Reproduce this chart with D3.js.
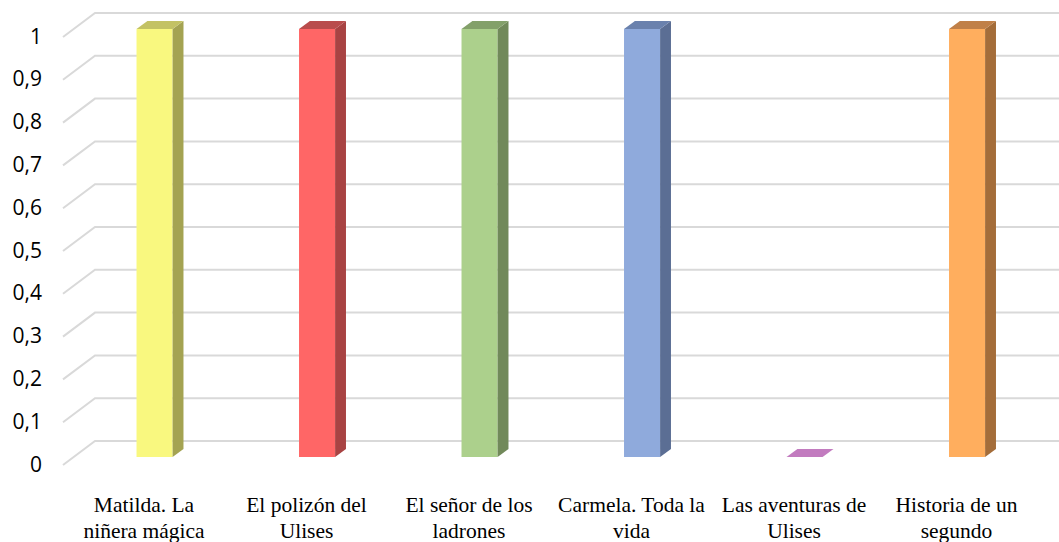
<!DOCTYPE html>
<html>
<head>
<meta charset="utf-8">
<script src="https://cdn.jsdelivr.net/npm/d3@7"></script>
<style>
  body { margin: 0; background: #fff; }
  svg { display: block; }
</style>
</head>
<body>
<div id="graph"></div>
<script>
// chart data
const categories = ['Matilda. La niñera mágica', 'El polizón del Ulises', 'El señor de los ladrones',
    'Carmela. Toda la vida', 'Las aventuras de Ulises', 'Historia de un segundo'];
const values = [1, 1, 1, 1, 0, 1];
const yTicks = [0, 0.1, 0.2, 0.3, 0.4, 0.5, 0.6, 0.7, 0.8, 0.9, 1];
const frontColors = ['#f9f87f', '#ff6666', '#acd08c', '#8faadc', '#c27bbf', '#ffae5e'];
const sideColors = ['#a4a352', '#a84343', '#71895a', '#5b6e94', '#8a5488', '#a46d3a'];
const topColors = ['#c3c264', '#b94c4c', '#83a06a', '#6a81ad', '#c27bbf', '#c08048'];

const W = 1059, H = 542;
const DX = 32, DY = -24;        // depth of the floor / walls
const F0 = 0.33, F1 = 0.67;      // bar front & back as fraction of depth

const svg = d3.select('#graph').append('svg')
    .attr('width', W)
    .attr('height', H);

const y = d3.scaleLinear().domain([0, 1]).range([465, 37]);
const x = d3.scaleBand().domain(categories).range([62.75, 1037.75])
    .paddingInner(0.778).paddingOuter(0.389);

// gridlines (diagonal on the side wall + horizontal on back wall)
const grid = svg.append('g');
yTicks.forEach(t => {
    const y0 = y(t);
    grid.append('path')
        .attr('d', `M63,${y0}L${63 + DX},${y0 + DY}L${W + 20},${y0 + DY}`)
        .attr('fill', 'none')
        .attr('stroke', '#d9d9d9')
        .attr('stroke-width', 2);
});

// y labels
svg.append('g').selectAll('text')
    .data(yTicks)
    .enter()
    .append('text')
    .attr('x', 42)
    .attr('y', d => y(d) + 1)
    .attr('text-anchor', 'end')
    .attr('dominant-baseline', 'middle')
    .attr('font-family', '"Open Sans", sans-serif')
    .attr('font-size', 21)
    .attr('fill', '#000')
    .text(d => String(d).replace('.', ','));

// 3d bars
const bars = svg.append('g');
categories.forEach((c, i) => {
    const x0 = x(c) + F0 * DX, x1 = x0 + x.bandwidth();
    const yb = y(0) + F0 * DY, yt = y(values[i]) + F0 * DY;
    const ddx = (F1 - F0) * DX, ddy = (F1 - F0) * DY;
    const g = bars.append('g');
    if (values[i] > 0) {
        g.append('path')
            .attr('d', `M${x0},${yb}L${x1},${yb}L${x1},${yt}L${x0},${yt}Z`)
            .attr('fill', frontColors[i]);
        g.append('path')
            .attr('d', `M${x1},${yb}L${x1 + ddx},${yb + ddy}L${x1 + ddx},${yt + ddy}L${x1},${yt}Z`)
            .attr('fill', sideColors[i]);
    }
    g.append('path')
        .attr('d', `M${x0},${yt}L${x1},${yt}L${x1 + ddx},${yt + ddy}L${x0 + ddx},${yt + ddy}Z`)
        .attr('fill', topColors[i]);
});

// category labels, wrapped
const labels = svg.append('g').selectAll('text')
    .data(categories)
    .enter()
    .append('text')
    .attr('x', d => x(d) + x.bandwidth() / 2)
    .attr('y', 512)
    .attr('text-anchor', 'middle')
    .attr('font-family', '"Liberation Serif", "Times New Roman", serif')
    .attr('font-size', 21.5)
    .attr('fill', '#000');

labels.each(function(d) {
    const el = d3.select(this);
    const words = d.split(' ');
    let line = [], lines = [];
    const probe = el.append('tspan');
    words.forEach(w => {
        probe.text([...line, w].join(' '));
        if (line.length && probe.node().getComputedTextLength() > 152) {
            lines.push(line.join(' '));
            line = [w];
        } else line.push(w);
    });
    lines.push(line.join(' '));
    probe.remove();
    lines.forEach((l, k) => {
        el.append('tspan')
            .attr('x', x(d) + x.bandwidth() / 2)
            .attr('dy', k ? 25.5 : 0)
            .text(l);
    });
});
</script>
</body>
</html>
